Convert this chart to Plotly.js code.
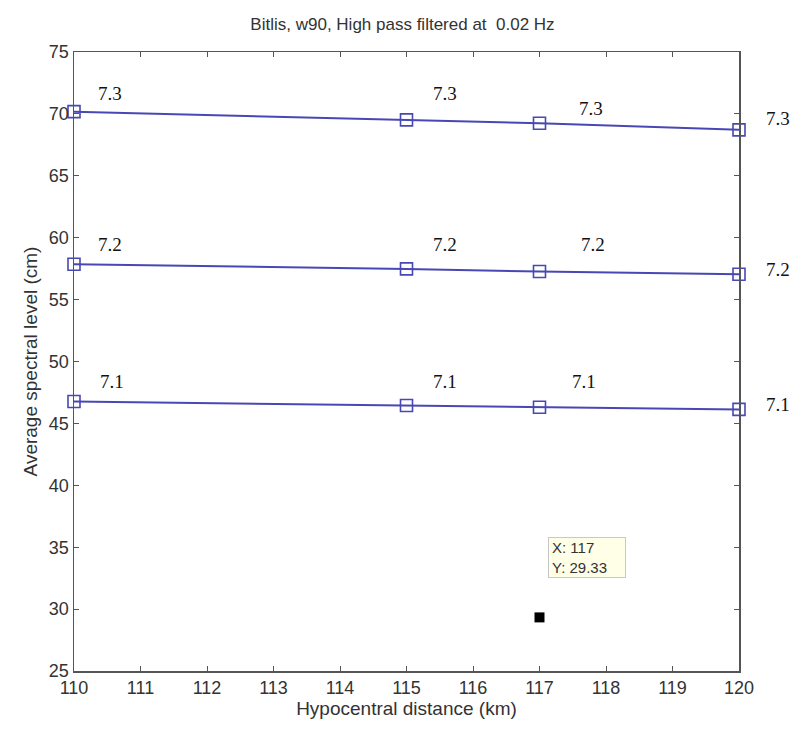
<!DOCTYPE html>
<html>
<head>
<meta charset="utf-8">
<script src="https://cdn.plot.ly/plotly-3.0.1.min.js"></script>
<style>html,body{margin:0;padding:0;background:#fff;}#chart{width:797px;height:738px;}</style>
</head>
<body>
<div id="chart"></div>
<script>
// Data
const distances = [110, 115, 117, 120];
const level73 = [70.18, 69.52, 69.24, 68.71];
const level72 = [57.85, 57.48, 57.27, 57.05];
const level71 = [46.77, 46.45, 46.30, 46.13];
const magnitudes = ['7.3', '7.2', '7.1'];
const tipX = [117];
const tipY = [29.33];
const xTicks = [110, 111, 112, 113, 114, 115, 116, 117, 118, 119, 120];
const yTicks = [25, 30, 35, 40, 45, 50, 55, 60, 65, 70, 75];

const series = [level73, level72, level71];
const lineColor = '#4848b4';

const traces = series.map(ys => ({
  x: distances, y: ys, type: 'scatter', mode: 'lines+markers',
  line: {color: lineColor, width: 2},
  marker: {symbol: 'square-open', size: 12, color: lineColor, line: {width: 1.6, color: lineColor}},
  cliponaxis: false, showlegend: false, hoverinfo: 'skip'
}));
traces.push({
  x: tipX, y: tipY, type: 'scatter', mode: 'markers',
  marker: {symbol: 'square', size: 10, color: '#000'},
  cliponaxis: false, showlegend: false, hoverinfo: 'skip'
});

// label pixel offsets per series/point (layout only)
const offs = [
  [[36,-18],[38,-26],[51,-15],[39,-11]],
  [[36,-20],[38,-24],[53,-27],[39,-5]],
  [[38,-20],[38,-24],[44,-26],[39,-5]]
];
const annotations = [];
series.forEach((ys, s) => {
  ys.forEach((v, i) => {
    annotations.push({
      x: distances[i], y: v, xref: 'x', yref: 'y', text: magnitudes[s], showarrow: false,
      xshift: offs[s][i][0], yshift: -offs[s][i][1],
      font: {family: 'Liberation Serif, Times New Roman, serif', size: 19, color: '#111'}
    });
  });
});
annotations.push({
  x: tipX[0], y: tipY[0], xref: 'x', yref: 'y',
  text: 'X: ' + tipX[0] + '<br>Y: ' + tipY[0].toFixed(2), showarrow: false,
  xanchor: 'left', yanchor: 'bottom', align: 'left', valign: 'middle', xshift: 8, yshift: 39,
  width: 70, height: 33,
  bgcolor: '#ffffe8', bordercolor: '#c8c8c8', borderwidth: 1, borderpad: 3,
  font: {family: 'Liberation Sans, Arial, sans-serif', size: 15, color: '#333'}
});

const axisCommon = {
  showgrid: false, zeroline: false, showline: true, linecolor: '#555', linewidth: 1.5,
  mirror: 'ticks', ticks: 'inside', ticklen: 5, tickwidth: 1, tickcolor: '#555',
  tickfont: {family: 'Liberation Sans, Arial, sans-serif', size: 18, color: '#333'}
};

const layout = {
  width: 797, height: 738,
  margin: {l: 74, r: 58, t: 52, b: 67},
  paper_bgcolor: '#fff', plot_bgcolor: '#fff',
  title: {text: 'Bitlis, w90, High pass filtered at  0.02 Hz', x: 0.505, xanchor: 'center', y: 0.967, yanchor: 'middle',
    font: {family: 'Liberation Sans, Arial, sans-serif', size: 17, color: '#333'}},
  xaxis: Object.assign({}, axisCommon, {range: [110, 120], tickvals: xTicks, ticktext: xTicks.map(String),
    title: {text: 'Hypocentral distance (km)', standoff: 4, font: {family: 'Liberation Sans, Arial, sans-serif', size: 19, color: '#333'}}}),
  yaxis: Object.assign({}, axisCommon, {range: [25, 75], tickvals: yTicks, ticktext: yTicks.map(String),
    title: {text: 'Average spectral level (cm)', standoff: 6, font: {family: 'Liberation Sans, Arial, sans-serif', size: 19, color: '#333'}}}),
  annotations: annotations
};

Plotly.newPlot('chart', traces, layout, {displayModeBar: false, staticPlot: true});
</script>
</body>
</html>
